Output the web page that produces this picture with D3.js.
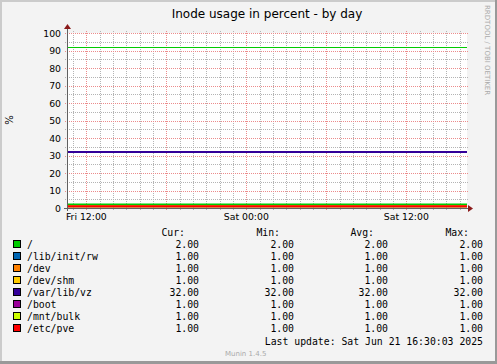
<!DOCTYPE html>
<html>
<head>
<meta charset="utf-8">
<script src="https://cdn.jsdelivr.net/npm/d3@7"></script>
<style>
  body { margin: 0; background: #fff; }
  svg text { font-family: "DejaVu Sans", sans-serif; }
  svg text.mono { font-family: "DejaVu Sans Mono", monospace; }
</style>
</head>
<body>
<div id="chart"></div>
<script>
// series, in munin draw order
const names = ['/', '/lib/init/rw', '/dev', '/dev/shm', '/var/lib/vz', '/boot', '/mnt/bulk', '/etc/pve']
const colors = ['#00cc00', '#0066b3', '#ff8000', '#ffcc00', '#330099', '#990099', '#ccff00', '#ff0000']
const cur = [2, 1, 1, 1, 32, 1, 1, 1]
const min = [2, 1, 1, 1, 32, 1, 1, 1]
const avg = [2, 1, 1, 1, 32, 1, 1, 1]
const max = [2, 1, 1, 1, 32, 1, 1, 1]
const warning = 92

const yTicks = [0, 10, 20, 30, 40, 50, 60, 70, 80, 90, 100]
const yMinor = [5, 15, 25, 35, 45, 55, 65, 75, 85, 95]
const timeStart = new Date(2025, 5, 20, 10, 33)
const timeEnd = new Date(2025, 5, 21, 16, 33)
const xLabels = [new Date(2025, 5, 20, 12), new Date(2025, 5, 21, 0), new Date(2025, 5, 21, 12)]

const title = 'Inode usage in percent - by day'
const lastUpdate = 'Last update: Sat Jun 21 16:30:03 2025'

const W = 497, H = 364
const plot = { left: 67, right: 467, top: 33, bottom: 208 }

const svg = d3.select('#chart').append('svg')
    .attr('width', W).attr('height', H)

// frame, rrdtool style shading
svg.append('rect').attr('width', W).attr('height', H).attr('fill', '#999999')
svg.append('rect').attr('width', W - 2).attr('height', H - 3).attr('fill', '#cbcbcb')
svg.append('rect').attr('x', 2).attr('y', 2).attr('width', W - 4).attr('height', H - 5).attr('fill', '#f3f3f3')

const x = d3.scaleTime().domain([timeStart, timeEnd]).range([plot.left, plot.right])
const y = d3.scaleLinear().domain([0, 100]).range([plot.bottom, plot.top])

svg.append('rect')
    .attr('x', plot.left).attr('y', plot.top)
    .attr('width', plot.right - plot.left).attr('height', plot.bottom - plot.top)
    .attr('fill', '#ffffff')

const px = v => Math.round(v) + 0.5
const hours = d3.timeHour.range(timeStart, timeEnd)

// dotted grid, one pixel on / one off
const dotsV = xx => d3.range(plot.top - 2, plot.bottom + 2, 2).map(yy => `M${xx},${yy}h1v1h-1z`).join('')
const dotsH = yy => d3.range(plot.left - 2, plot.right + 2, 2).map(xx => `M${xx},${yy}h1v1h-1z`).join('')

const grid = svg.append('g').attr('shape-rendering', 'crispEdges')
grid.selectAll('path.v').data(hours).join('path').attr('class', 'v')
    .attr('d', d => dotsV(Math.round(x(d))))
    .attr('fill', d => d.getHours() % 6 ? '#b4b4b4' : '#ec8c8c')
grid.selectAll('path.h').data(yMinor.concat(yTicks)).join('path').attr('class', 'h')
    .attr('d', d => dotsH(Math.round(y(d))))
    .attr('fill', d => d % 10 ? '#b4b4b4' : '#ec8c8c')

// y tick labels
svg.append('g').selectAll('text').data(yTicks).join('text')
    .attr('x', 61).attr('y', d => y(d) + 3.5)
    .attr('text-anchor', 'end').attr('font-size', '9.3px').attr('fill', '#000')
    .text(d => d)

// x labels
svg.append('g').selectAll('text').data(xLabels).join('text')
    .attr('x', d => x(d)).attr('y', 220)
    .attr('text-anchor', 'middle').attr('font-size', '9.3px').attr('fill', '#000')
    .text(d => d3.timeFormat('%a %H:%M')(d))

// warning rule
svg.append('line')
    .attr('x1', plot.left).attr('x2', plot.right)
    .attr('y1', px(y(warning))).attr('y2', px(y(warning)))
    .attr('stroke', colors[0]).attr('stroke-width', 1)

// series lines
const line = d3.line().x(d => x(d.t)).y(d => y(d.v))
svg.append('g').selectAll('path').data(names).join('path')
    .attr('d', (n, i) => line([{ t: timeStart, v: avg[i] }, { t: timeEnd, v: avg[i] }]))
    .attr('stroke', (n, i) => colors[i]).attr('stroke-width', 2).attr('fill', 'none')

// axes with arrows
const axes = svg.append('g')
axes.append('line').attr('x1', plot.left + 0.5).attr('x2', plot.left + 0.5)
    .attr('y1', plot.bottom + 3).attr('y2', plot.top - 5).attr('stroke', '#606060')
axes.append('line').attr('x1', plot.left - 3).attr('x2', plot.right + 2)
    .attr('y1', plot.bottom + 0.5).attr('y2', plot.bottom + 0.5).attr('stroke', '#606060')
svg.append('path')
    .attr('d', `M${plot.left - 3},${plot.top - 4} L${plot.left + 4},${plot.top - 4} L${plot.left + 0.5},${plot.top - 9} Z`)
    .attr('fill', '#8b1a1a')
svg.append('path')
    .attr('d', `M${plot.right + 1},${plot.bottom - 3} L${plot.right + 1},${plot.bottom + 4} L${plot.right + 6},${plot.bottom + 0.5} Z`)
    .attr('fill', '#8b1a1a')

// title and labels
svg.append('text').attr('x', (plot.left + plot.right) / 2).attr('y', 18)
    .attr('text-anchor', 'middle').attr('font-size', '12px').text(title)
svg.append('text').attr('transform', 'translate(13,120) rotate(-90)')
    .attr('text-anchor', 'middle').attr('font-size', '10px').text('%')
svg.append('text').attr('transform', 'translate(485,5) rotate(90)')
    .attr('font-size', '7px').attr('fill', '#aaaaaa').text('RRDTOOL / TOBI OETIKER')

// legend
const legend = svg.append('g')
const rowY = i => 248 + i * 12
const colEnds = [199, 294, 388, 483]
const headers = ['Cur:', 'Min:', 'Avg:', 'Max:']
const cols = [cur, min, avg, max]

legend.selectAll('text.hdr').data(headers).join('text')
    .attr('class', 'mono').attr('x', (d, i) => colEnds[i] - 14).attr('y', 236)
    .attr('text-anchor', 'end').attr('font-size', '9.8px').text(d => d)

names.forEach((n, i) => {
    legend.append('rect')
        .attr('x', 13.5).attr('y', rowY(i) - 7.5).attr('width', 7).attr('height', 7)
        .attr('fill', colors[i]).attr('stroke', '#000').attr('stroke-width', 1)
    legend.append('text').attr('class', 'mono')
        .attr('x', 27).attr('y', rowY(i)).attr('font-size', '9.8px').text(n)
    cols.forEach((c, j) => {
        legend.append('text').attr('class', 'mono')
            .attr('x', colEnds[j]).attr('y', rowY(i))
            .attr('text-anchor', 'end').attr('font-size', '9.8px')
            .text(c[i].toFixed(2))
    })
})

legend.append('text').attr('class', 'mono')
    .attr('x', 483).attr('y', 345).attr('text-anchor', 'end')
    .attr('font-size', '9.8px').text(lastUpdate)

svg.append('text').attr('x', 225).attr('y', 356)
    .attr('font-size', '7px').attr('fill', '#aaaaaa').text('Munin 1.4.5')
</script>
</body>
</html>
